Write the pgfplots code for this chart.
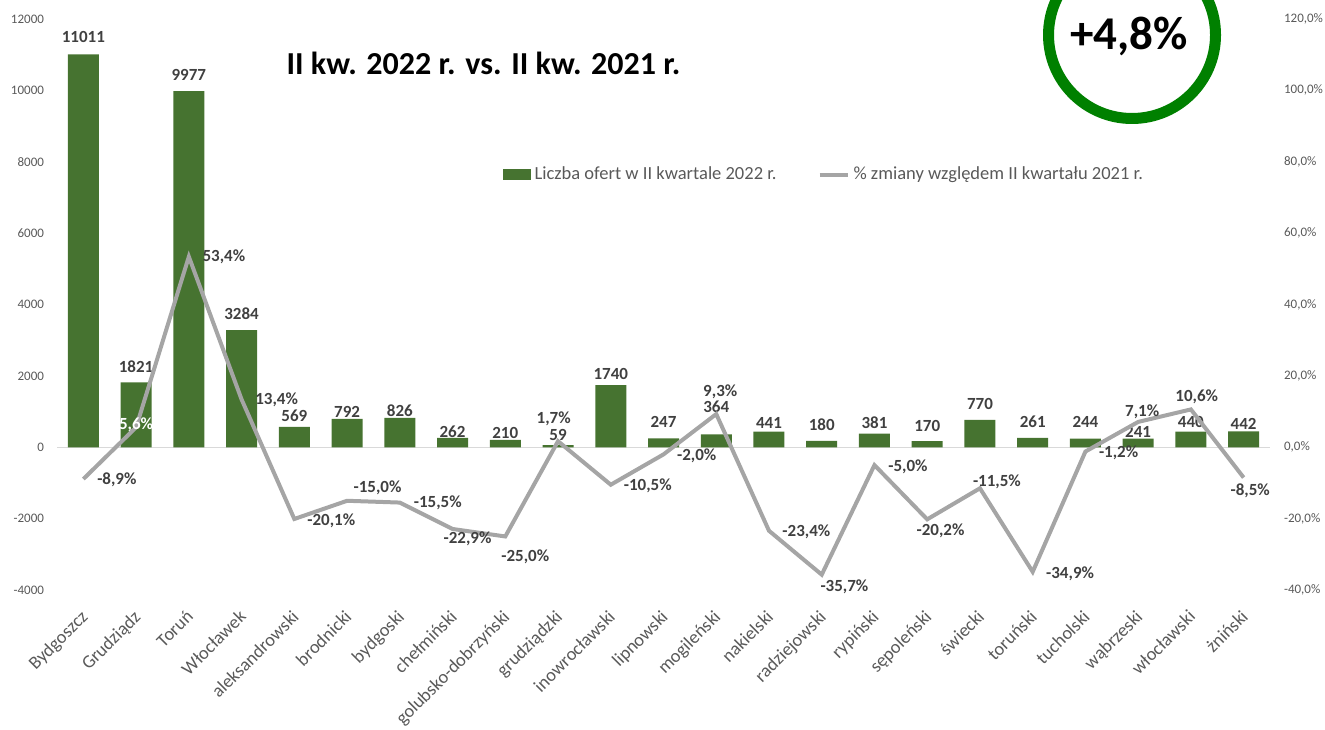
\documentclass[border=0pt]{standalone}
\usepackage{fontspec}
\setmainfont{Carlito}
\usepackage{pgfplots}
\pgfplotsset{compat=1.18}
\usepackage{pgfplotstable}
\definecolor{barg}{HTML}{467330}
\definecolor{lineg}{HTML}{A5A5A5}
\definecolor{txtg}{HTML}{595959}
\definecolor{lblg}{HTML}{404040}
\definecolor{zerog}{HTML}{D9D9D9}
\definecolor{ring}{HTML}{008000}

\pgfplotstableread{
x n dy
0 11011 8.5
1 1821 7.75
2 9977 8
3 3284 8
4 569 5.35
5 792 3.6
6 826 3.5
7 262 3.3
8 210 3.5
9 59 5.2
10 1740 5.7
11 247 8.35
12 364 13.75
13 441 4.4
14 180 8
15 381 5.5
16 170 7.7
17 770 8
18 261 8.1
19 244 8.4
20 241 3.2
21 440 4.9
22 442 3.6
}\bars

\pgfplotstableread{
x p dx dy col
0 -8.9 16.75 -0.5 100
1 5.6 0 1 0
2 53.4 17.5 0 100
3 13.4 17.5 -0.4 100
4 -20.1 18.5 -1.1 100
5 -15.0 15.25 6.25 100
6 -15.5 19 0 100
7 -22.9 7.5 -5.15 100
8 -25.0 10 -10.4 100
9 1.7 -2.15 11 100
10 -10.5 18.5 -0.75 100
11 -2.0 16.6 -0.9 100
12 9.3 2 10.9 100
13 -23.4 18.7 -0.75 100
14 -35.7 11.35 -6.3 100
15 -5.0 16.75 -0.6 100
16 -20.2 6.65 -5.95 100
17 -11.5 8.5 3.5 100
18 -34.9 18.7 -1.2 100
19 -1.2 16.6 -0.85 100
20 7.1 2 4.85 100
21 10.6 2.9 6.1 100
22 -8.5 3.3 -6.35 100
}\pct

\pgfplotsset{common/.style={
  scale only axis, width=606.5pt, height=285.5pt,
  at={(28.5pt,69.5pt)}, anchor=south west,
  xmin=-0.5, xmax=22.5,
  axis line style={draw=none}, major tick length=0pt,
  /pgf/number format/assume math mode=true,
  clip=false,
}}

\begin{document}
\begin{tikzpicture}
\begin{axis}[common,
  ymin=-4000, ymax=12000, ytick={-4000,-2000,...,12000},
  scaled y ticks=false,
  xtick={0,...,22},
  xticklabels={Bydgoszcz, Grudziądz, Toruń, Włocławek, aleksandrowski, brodnicki, bydgoski, chełmiński, golubsko-dobrzyński, grudziądzki, inowrocławski, lipnowski, mogileński, nakielski, radziejowski, rypiński, sępoleński, świecki, toruński, tucholski, wąbrzeski, włocławski, żniński},
  xticklabel style={xshift=-1.8pt, yshift=-7.8pt, rotate=45, anchor=north east, font=\fontsize{9.2}{11}\selectfont, text=txtg, inner sep=1pt},
  yticklabel style={font=\fontsize{6.5}{7}\selectfont, text=txtg, xshift=-3pt},
  /pgf/number format/1000 sep={},
  extra y ticks={0}, extra y tick labels={},
  extra y tick style={grid=major, major grid style={zerog, line width=0.75pt}},
]
\addplot[ybar, bar width=15.5pt, fill=barg, draw=none, bar shift=0pt,
  nodes near coords, point meta=y, nodes near coords align=center,
  visualization depends on={\thisrow{dy} \as \bdy},
  every node near coord/.append style={font=\fontsize{8.5}{10}\selectfont\bfseries, text=lblg, yshift=\bdy pt, inner sep=0pt}]
  table[x=x,y=n]{\bars};
\end{axis}
\begin{axis}[common,
  ymin=-40, ymax=120, ytick={-40,-20,...,120},
  xtick=\empty,
  yticklabel pos=right,
  yticklabel={\pgfmathprintnumber[fixed,fixed zerofill,precision=1,use comma,assume math mode=true]{\tick}\%},
  yticklabel style={font=\fontsize{6.5}{7}\selectfont, text=txtg, xshift=3.5pt},
  legend style={at={(0.633,0.727)}, anchor=center, draw=none, fill=none,
    font=\fontsize{9.25}{11}\selectfont, text=txtg, legend columns=2,
    /tikz/every even column/.append style={column sep=18.5pt}, inner sep=0pt},
  legend cell align=left,
]
\addlegendimage{legend image code/.code={\fill[barg] (0pt,-2.5pt) rectangle (13.5pt,2.5pt);}}
\addlegendentry{Liczba ofert w II kwartale 2022 r.}
\addplot[lineg, line width=2pt, mark=none,
  legend image code/.code={\draw[lineg, line width=2pt] (0pt,0pt) -- (14pt,0pt);},
  nodes near coords={\pgfmathprintnumber[fixed,fixed zerofill,precision=1,use comma,assume math mode=true]{\pgfplotspointmeta}\%},
  point meta=y, nodes near coords align=center,
  visualization depends on={\thisrow{dx} \as \ldx},
  visualization depends on={\thisrow{dy} \as \ldy},
  visualization depends on={\thisrow{col} \as \lcol},
  every node near coord/.append style={font=\fontsize{8.5}{10}\selectfont\bfseries, text=lblg!\lcol!white, xshift=\ldx pt, yshift=\ldy pt, inner sep=0pt}]
  table[x=x,y=p]{\pct};
\addlegendentry{\% zmiany względem II kwartału 2021 r.}
\end{axis}
\node[anchor=base, font=\fontsize{16}{19}\selectfont\bfseries] at (241.75pt,327.1pt) {II kw. 2022 r. vs. II kw. 2021 r.};
\draw[ring, line width=5.5pt] (566pt,347pt) circle (41.75pt);
\node[anchor=base, font=\fontsize{23.5}{28}\selectfont\bfseries] at (564.5pt,339.5pt) {+4,8\%};
\pgfresetboundingbox
\useasboundingbox (0,0) rectangle (662.5pt,364.5pt);
\end{tikzpicture}
\end{document}
